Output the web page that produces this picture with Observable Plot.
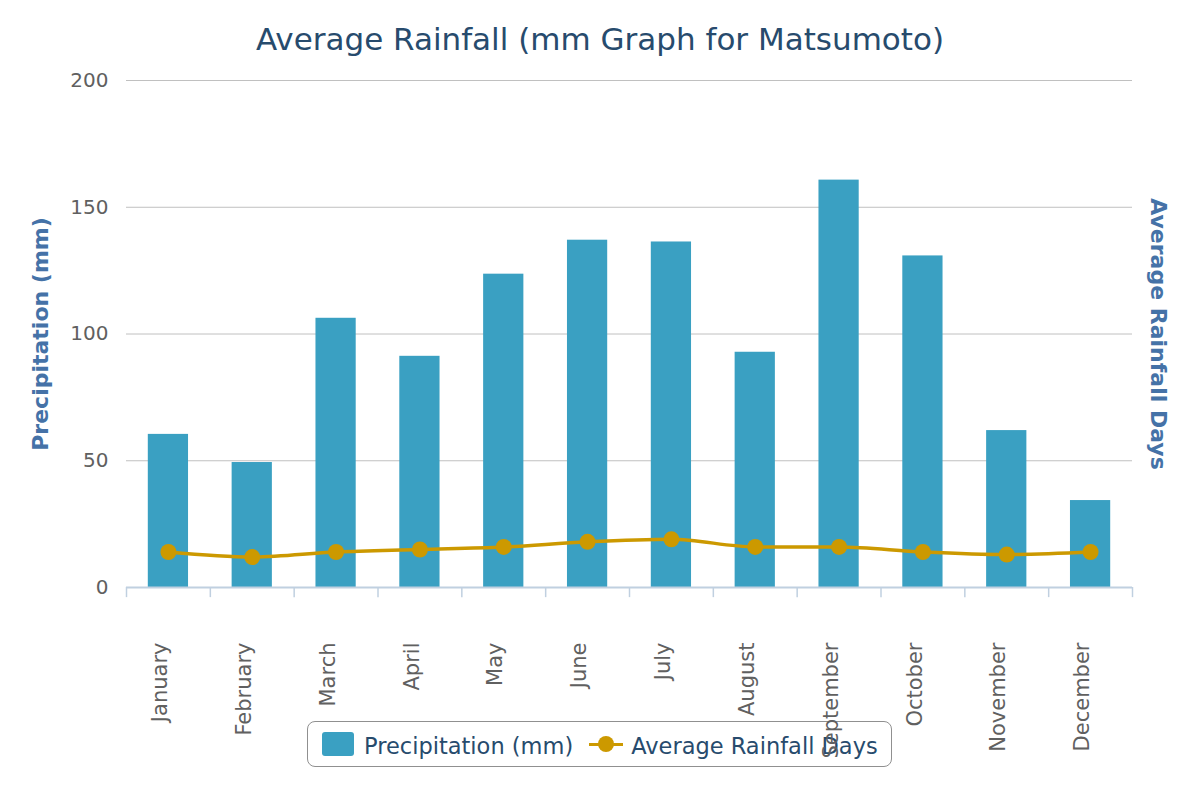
<!DOCTYPE html>
<html>
<head>
<meta charset="utf-8">
<script src="https://cdn.jsdelivr.net/npm/d3@7"></script>
<script src="https://cdn.jsdelivr.net/npm/@observablehq/plot@0.6"></script>
<style>
  body { margin: 0; background: #fff; font-family: "DejaVu Sans", sans-serif; }
  #wrap { position: relative; width: 1200px; height: 800px; }
  #title { height: 70px; text-align: center; font-size: 31px; color: #274b6d; line-height: 78px; }
  #chart { position: relative; z-index: 2; }
  #legend { position: absolute; z-index: 1; left: 307px; top: 721px; width: 585px; height: 46px;
    border: 1.5px solid #909090; border-radius: 8px; box-sizing: border-box; padding-top: 4px;
    display: flex; align-items: center; font-size: 22.5px; color: #274b6d; white-space: nowrap; }
  .sw { display: inline-block; width: 32px; height: 24px; background: #3aa0c2; border-radius: 3px; margin: 0 10px 0 14px; position: relative; top: -2px; }
  .ln { position: relative; display: inline-block; width: 34px; height: 16px; margin: 0 8px 0 16px; top: -2px; }
  .ln::before { content: ""; position: absolute; left: 0; right: 0; top: 6.5px; height: 3px; background: #cc9900; }
  .ln::after { content: ""; position: absolute; left: 9px; top: 0; width: 16px; height: 16px; border-radius: 50%; background: #cc9900; }
</style>
</head>
<body>
<div id="wrap">
  <div id="title">Average Rainfall (mm Graph for Matsumoto)</div>
  <div id="legend"><span class="sw"></span>Precipitation (mm)<span class="ln"></span>Average Rainfall Days</div>
  <div id="chart"></div>
</div>
<script>
const months = ["January","February","March","April","May","June","July","August","September","October","November","December"];
const precipitation = [60.4, 49.3, 106.2, 91.2, 123.6, 137.0, 136.3, 92.8, 160.7, 130.8, 61.9, 34.3];
const rainDays = [14, 12, 14, 15, 16, 18, 19, 16, 16, 14, 13, 14];
const yTicks = [0, 50, 100, 150, 200];

const data = months.map((m, i) => ({month: m, precip: precipitation[i], days: rainDays[i]}));

const W = 1200, H = 730, mL = 126, mR = 68, mT = 10, mB = 213;
const step = (W - mL - mR) / months.length;

const chart = Plot.plot({
  width: W, height: H,
  marginLeft: mL, marginRight: mR, marginTop: mT, marginBottom: mB,
  style: {fontFamily: "DejaVu Sans, sans-serif", background: "transparent", overflow: "visible"},
  x: {type: "band", domain: months, paddingInner: 0.52, paddingOuter: 0.26, round: false, axis: null},
  y: {domain: [0, 200], axis: null},
  marks: [
    Plot.gridY(yTicks, {stroke: "#c0c0c0", strokeOpacity: 1, strokeWidth: 1}),
    Plot.text(yTicks, {x: null, y: d => d, frameAnchor: "left", dx: -18, textAnchor: "end", text: d => String(d), fill: "#606060", fontSize: 20}),
    Plot.barY(data, {x: "month", y: "precip", fill: "#3aa0c2"}),
    Plot.ruleY([0], {stroke: "#c0d0e0", strokeWidth: 2}),
    Plot.ruleX(months, {x: d => d, dx: -step / 2, y1: 0, y2: -4, stroke: "#c0d0e0", strokeWidth: 1.5}),
    Plot.ruleX(months.slice(-1), {x: d => d, dx: step / 2, y1: 0, y2: -4, stroke: "#c0d0e0", strokeWidth: 1.5}),
    Plot.lineY(data, {x: "month", y: "days", stroke: "#cc9900", strokeWidth: 3.5, curve: "monotone-x"}),
    Plot.dot(data, {x: "month", y: "days", r: 8, fill: "#cc9900"}),
    Plot.text(months, {x: d => d, y: 0, text: d => d, rotate: -90, textAnchor: "end", dy: 55, dx: -8, fill: "#606060", fontSize: 21}),
    Plot.text(["Precipitation (mm)"], {frameAnchor: "left", rotate: -90, textAnchor: "middle", dx: -86, fill: "#4572a7", fontSize: 22, fontWeight: "bold"}),
    Plot.text(["Average Rainfall Days"], {frameAnchor: "right", rotate: 90, textAnchor: "middle", dx: 26, fill: "#4572a7", fontSize: 22, fontWeight: "bold"})
  ]
});
document.getElementById("chart").append(chart);
</script>
</body>
</html>
